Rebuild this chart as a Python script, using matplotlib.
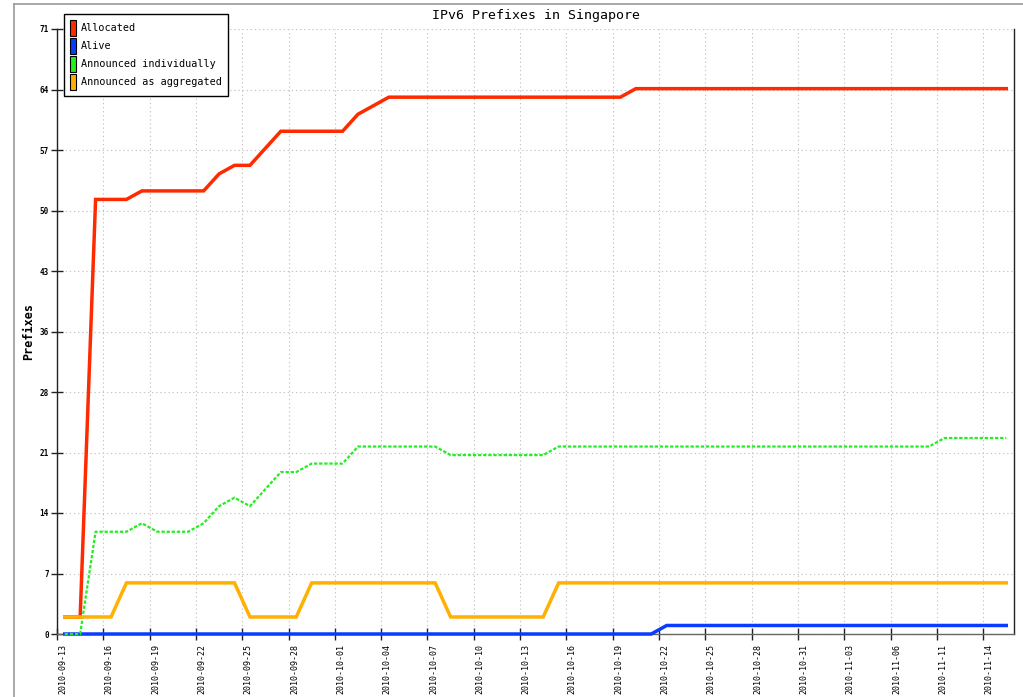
import matplotlib
matplotlib.use("Agg")
import matplotlib.pyplot as plt
import matplotlib.transforms as mtransforms
from matplotlib.patches import Patch
from matplotlib.lines import Line2D

# ---- data (one sample per day, days counted from 2010-09-13, sampled mid-day) ----
day_offset = 0.5
allocated = [2, 2, 51, 51, 51, 52, 52, 52, 52, 52, 54, 55, 55, 57, 59, 59, 59, 59, 59, 61,
             62, 63, 63, 63, 63, 63, 63, 63, 63, 63, 63, 63, 63, 63, 63, 63, 63, 64, 64, 64,
             64, 64, 64, 64, 64, 64, 64, 64, 64, 64, 64, 64, 64, 64, 64, 64, 64, 64, 64, 64,
             64, 64]
alive = [0] * 39 + [1] * 23
announced_individually = [0, 0, 12, 12, 12, 13, 12, 12, 12, 13, 15, 16, 15, 17, 19, 19, 20, 20, 20, 22,
                          22, 22, 22, 22, 22, 21, 21, 21, 21, 21, 21, 21, 22, 22, 22, 22, 22, 22, 22, 22,
                          22, 22, 22, 22, 22, 22, 22, 22, 22, 22, 22, 22, 22, 22, 22, 22, 22, 23, 23, 23,
                          23, 23]
announced_aggregated = [2, 2, 2, 2, 6, 6, 6, 6, 6, 6, 6, 6, 2, 2, 2, 2, 6, 6, 6, 6,
                        6, 6, 6, 6, 6, 2, 2, 2, 2, 2, 2, 2, 6, 6, 6, 6, 6, 6, 6, 6,
                        6, 6, 6, 6, 6, 6, 6, 6, 6, 6, 6, 6, 6, 6, 6, 6, 6, 6, 6, 6,
                        6, 6]
series_names = ["Allocated", "Alive", "Announced individually", "Announced as aggregated"]
series_colors = ["#ff2a00", "#0a3cff", "#22ee22", "#ffb000"]

x_tick_days = [0, 3, 6, 9, 12, 15, 18, 21, 24, 27, 30, 33, 36, 39, 42, 45, 48, 51, 54, 57, 60]
x_tick_labels = ["2010-09-13", "2010-09-16", "2010-09-19", "2010-09-22", "2010-09-25",
                 "2010-09-28", "2010-10-01", "2010-10-04", "2010-10-07", "2010-10-10",
                 "2010-10-13", "2010-10-16", "2010-10-19", "2010-10-22", "2010-10-25",
                 "2010-10-28", "2010-10-31", "2010-11-03", "2010-11-06", "2010-11-11",
                 "2010-11-14"]
y_max = 71
y_tick_labels = ["0", "7", "14", "21", "28", "36", "43", "50", "57", "64", "71"]
x_span_days = 62

mono = "DejaVu Sans Mono"
W, H = 1023, 697
fig = plt.figure(figsize=(W / 100, H / 100), dpi=100)
fig.patch.set_facecolor("white")

# outer frame lines (left and top)
fig.add_artist(Line2D([14 / W, 14 / W], [0, 1 - 4 / H], transform=fig.transFigure,
                      color="#9a9a9a", lw=1.2))
fig.add_artist(Line2D([14 / W, 1], [1 - 4 / H, 1 - 4 / H], transform=fig.transFigure,
                      color="#9a9a9a", lw=1.2))

ax = fig.add_axes([57 / W, 1 - 634 / H, (1014 - 57) / W, (634 - 29) / H])

xs = [i + day_offset for i in range(len(allocated))]
all_series = [allocated, alive, announced_individually, announced_aggregated]
for k, (vals, col) in enumerate(zip(all_series, series_colors)):
    if k == 2:
        ax.plot(xs, vals, color=col, lw=1.6, linestyle=(0, (1.5, 0.8)), zorder=3 + k,
                clip_on=False)
    else:
        ax.plot(xs, vals, color=col, lw=2.5, solid_joinstyle="miter", zorder=3 + k,
                clip_on=False)

ax.set_xlim(0, x_span_days)
ax.set_ylim(0, y_max)
ax.set_yticks([y_max * i / 10 for i in range(11)])
ax.set_yticklabels(y_tick_labels)
ax.set_xticks(x_tick_days)
ax.set_xticklabels(x_tick_labels, rotation=90, va="top", ha="center")

ax.grid(True, color="#c4c4c4", linestyle=(0, (1.2, 2.5)), lw=0.8)
ax.set_axisbelow(True)

ax.spines["top"].set_visible(False)
ax.spines["left"].set_color("#222222")
ax.spines["right"].set_color("#222222")
ax.spines["bottom"].set_color("#666666")
for s in ax.spines.values():
    s.set_linewidth(1.0)

ax.tick_params(axis="y", direction="inout", length=8, width=1, color="#222222",
               labelsize=5.5, pad=2)
ax.tick_params(axis="x", direction="inout", length=8, width=1, color="#222222",
               labelsize=6, pad=3)
for lab in ax.get_yticklabels():
    lab.set_fontfamily(mono)
    lab.set_fontweight("bold")
offset = mtransforms.ScaledTranslation(6 / 100, 0, fig.dpi_scale_trans)
for lab in ax.get_xticklabels():
    lab.set_fontfamily(mono)
    lab.set_transform(lab.get_transform() + offset)

ax.set_ylabel("Prefixes", fontfamily=mono, fontweight="bold", fontsize=8.5, labelpad=3)
fig.text((57 + 1014) / 2 / W, 1 - 16 / H, "IPv6 Prefixes in Singapore", fontfamily=mono,
         fontsize=9.5, ha="center", va="center")

handles = [Patch(facecolor=c, edgecolor="black", lw=0.8) for c in series_colors]
leg = fig.legend(handles, series_names, loc="upper left",
                 bbox_to_anchor=(64 / W, 1 - 14 / H), bbox_transform=fig.transFigure,
                 prop={"family": mono, "size": 7.3}, frameon=True, fancybox=False,
                 edgecolor="black", facecolor="white", framealpha=1,
                 handlelength=0.6, handleheight=2.1, handletextpad=0.5,
                 labelspacing=0.15, borderpad=0.6, borderaxespad=0)
leg.get_frame().set_linewidth(1.0)
leg.set_zorder(20)

fig.savefig("out.png", dpi=100)
